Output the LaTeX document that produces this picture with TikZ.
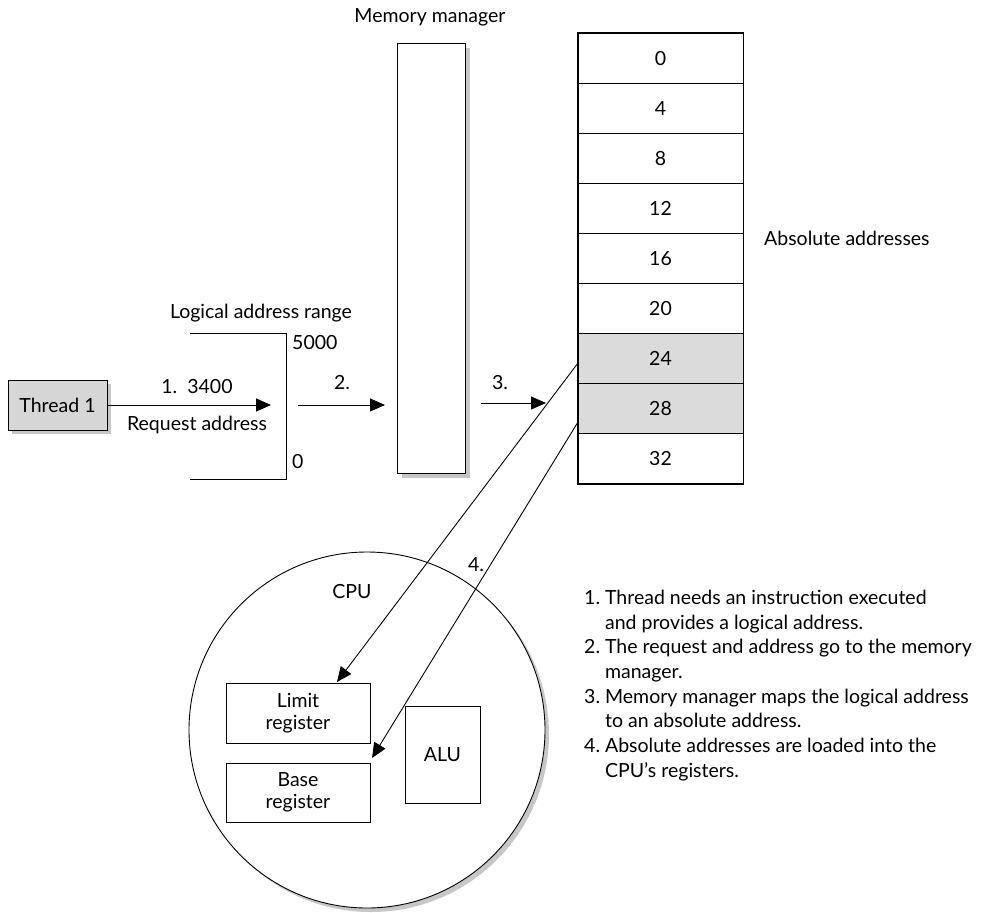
\documentclass[tikz,border=0pt]{standalone}
\usepackage{fontspec}
\setmainfont{Lato}
\usetikzlibrary{arrows.meta,calc}
\newcommand{\lbl}{\fontsize{19.5}{22}\selectfont}
\tikzset{
  txt/.style={font=\lbl, inner sep=0pt},
  box/.style={draw, line width=0.9pt, fill=white, inner sep=0pt, align=center, font=\lbl},
  cell/.style={draw, line width=0.9pt, minimum width=165pt, minimum height=50.1pt, inner sep=0pt, font=\lbl},
  tip/.style={-{Triangle[length=15pt,width=13pt]}, line width=0.9pt},
  shade/.style={fill=black!22, draw=none},
  hl/.style={fill=black!14}
}
\begin{document}
\begin{tikzpicture}[x=1pt,y=-1pt]
\useasboundingbox (0,0) rectangle (988,913);
% Thread box
\fill[shade] (12,384) rectangle (111,434);
\node[box, fill=black!16, minimum width=99pt, minimum height=50pt] (thr) at (57.5,405) {Thread 1};
% bracket
\coordinate (b1) at (190,333);
\coordinate (b2) at (286,333);
\coordinate (b3) at (286,479);
\coordinate (b4) at (190,479);
\draw[line width=0.9pt] (b1) -- (b2) -- (b3) -- (b4);
\node[txt] (lar) at (261,313) {Logical address range};
\node[txt, anchor=west] (n5000) at (292,343) {5000};
\node[txt, anchor=west] (n0) at (292,462) {0};
% arrow 1
\coordinate (a1) at (271,405);
\draw[tip] (thr.east) -- (a1);
\node[txt] (l1) at (197,387) {1.\ \ 3400};
\node[txt] (l1b) at (197,425) {Request address};
% memory manager
\fill[shade] (402,48) rectangle (470,478);
\node[box, minimum width=68pt, minimum height=430pt] (mm) at (431,258) {};
\node[txt] (mml) at (430,17) {Memory manager};
% arrow 2
\coordinate (a2s) at (298,405);
\coordinate (a2e) at (385,405);
\draw[tip] (a2s) -- (a2e);
\node[txt] (l2) at (342,383) {2.};
% arrow 3
\coordinate (a3s) at (481,403);
\coordinate (a3e) at (546,403);
\draw[tip] (a3s) -- (a3e);
\node[txt] (l3) at (500,383) {3.};
% memory table
\foreach \v [count=\i from 0] in {0,4,8,12,16,20,24,28,32}{
  \ifnum\i=6 \def\st{hl}\else\ifnum\i=7 \def\st{hl}\else\def\st{}\fi\fi
  \node[cell, \st] (r\v) at (660.5,{33+25.05+50.1*\i}) {\v};
}
\draw[line width=1.6pt] (r0.north west) rectangle (r32.south east);
\node[txt, anchor=west] (abs) at (764,238) {Absolute addresses};
% CPU
\fill[shade] (371,734) circle (178);
\node[draw, circle, line width=0.9pt, fill=white, minimum size=356pt, inner sep=0pt] (cpu) at (367,730) {};
\node[txt] (cpul) at (352,592) {CPU};
\node[box, minimum width=144pt, minimum height=60pt] (lim) at (298,713) {Limit\\register};
\node[box, minimum width=144pt, minimum height=59pt] (base) at (298,792.5) {Base\\register};
\node[box, minimum width=75pt, minimum height=97pt] (alu) at (442.5,754.5) {ALU};
% arrows 4
\coordinate (s1) at (578,363);
\coordinate (s2) at (578,422);
\coordinate (e1) at (337,682);
\coordinate (e2) at (372,758);
\draw[tip] (s1) -- (e1);
\draw[tip] (s2) -- (e2);
\node[txt] (l4) at (476,565) {4.};
% list
\node[anchor=north west, inner sep=0pt, font=\lbl] (list) at (584,587) {%
  \fontsize{19.5}{24.7}\selectfont
  \begin{tabular}{@{}r@{\ }l@{}}
  1. & Thread needs an instruction executed\\
     & and provides a logical address.\\
  2. & The request and address go to the memory\\
     & manager.\\
  3. & Memory manager maps the logical address\\
     & to an absolute address.\\
  4. & Absolute addresses are loaded into the\\
     & CPU’s registers.
  \end{tabular}};
\end{tikzpicture}
\end{document}
